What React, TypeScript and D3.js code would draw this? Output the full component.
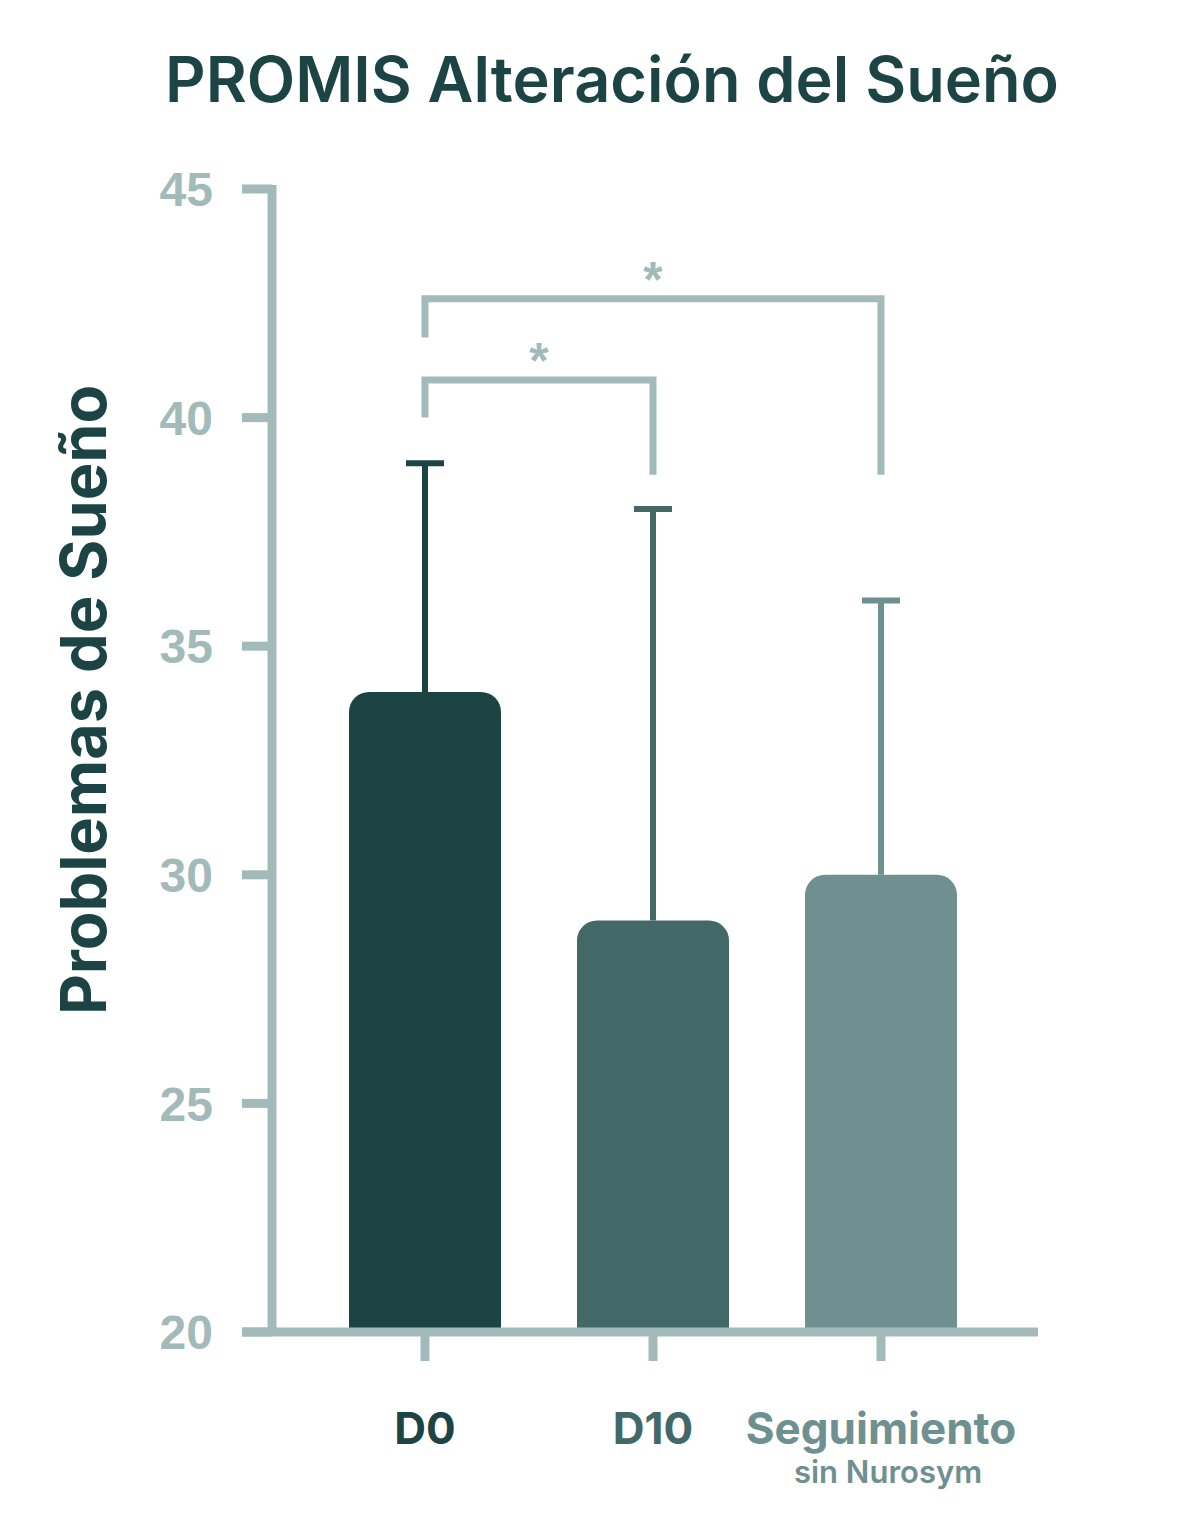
import React from "react";
import * as d3 from "d3";

const categories = ["D0", "D10", "Seguimiento"];
const subLabels = ["", "", "sin Nurosym"];
const means = [34, 29, 30];
const upperErrors = [39, 38, 36];
const barColors = ["#1c4444", "#436868", "#6f9090"];
const yTicks = [20, 25, 30, 35, 40, 45];
const brackets = [
  { from: 0, to: 1, level: 40.82, leftEnd: 40, rightEnd: 38.75, label: "*" },
  { from: 0, to: 2, level: 42.6, leftEnd: 41.75, rightEnd: 38.75, label: "*" },
];

const W = 1179;
const H = 1517;
const axisColor = "#a3baba";
const dark = "#1c4444";

export default function App() {
  const y = d3.scaleLinear().domain([20, 45]).range([1332, 189]);
  const x = d3
    .scaleBand<string>()
    .domain(categories)
    .range([311, 995])
    .paddingInner(1 / 3)
    .paddingOuter(1 / 6);
  const bw = x.bandwidth();
  const cx = (c: string) => (x(c) as number) + bw / 2;
  const r = 20;

  const barPath = (c: string, v: number) => {
    const x0 = x(c) as number;
    const x1 = x0 + bw;
    const yTop = y(v);
    const yb = y(20) - 4;
    const p = d3.path();
    p.moveTo(x0, yb);
    p.lineTo(x0, yTop + r);
    p.arcTo(x0, yTop, x0 + r, yTop, r);
    p.lineTo(x1 - r, yTop);
    p.arcTo(x1, yTop, x1, yTop + r, r);
    p.lineTo(x1, yb);
    p.closePath();
    return p.toString();
  };

  return (
    <svg width={W} height={H} style={{ display: "block", position: "absolute", left: 0, top: 0 }}>
      <rect width={W} height={H} fill="#ffffff" />
      <text x={612} y={102} textAnchor="middle" fontFamily="Inter, 'Noto Sans', sans-serif" fontWeight={600} fontSize={63} fill={dark}>
        PROMIS Alteración del Sueño
      </text>

      <text
        transform={`translate(106,${700}) rotate(-90)`}
        textAnchor="middle"
        fontFamily="Inter, 'Noto Sans', sans-serif"
        fontWeight={700}
        fontSize={63}
        fill={dark}
      >
        Problemas de Sueño
      </text>

      {categories.map((c, i) => (
        <path key={c} d={barPath(c, means[i])} fill={barColors[i]} />
      ))}

      {categories.map((c, i) => (
        <g key={c + "e"} stroke={barColors[i]} strokeWidth={6}>
          <line x1={cx(c)} x2={cx(c)} y1={y(means[i])} y2={y(upperErrors[i])} />
          <line x1={cx(c) - 19} x2={cx(c) + 19} y1={y(upperErrors[i])} y2={y(upperErrors[i])} />
        </g>
      ))}

      <line x1={272} x2={272} y1={185} y2={1336} stroke={axisColor} strokeWidth={9} />
      <line x1={242} x2={1038} y1={1332} y2={1332} stroke={axisColor} strokeWidth={9} />
      {yTicks.map((t) => (
        <g key={t}>
          <line x1={242} x2={272} y1={y(t)} y2={y(t)} stroke={axisColor} strokeWidth={9} />
          <text
            x={213}
            y={y(t)}
            dy="0.36em"
            textAnchor="end"
            fontFamily="'Liberation Sans', Arial, sans-serif"
            fontWeight={700}
            fontSize={48}
            fill={axisColor}
          >
            {t}
          </text>
        </g>
      ))}
      {categories.map((c) => (
        <line key={c + "t"} x1={cx(c)} x2={cx(c)} y1={1332} y2={1361} stroke={axisColor} strokeWidth={9} />
      ))}

      {categories.map((c, i) => (
        <g key={c + "l"}>
          <text
            x={cx(c)}
            y={1444}
            textAnchor="middle"
            fontFamily="Inter, 'Noto Sans', sans-serif"
            fontWeight={700}
            fontSize={44}
            fill={barColors[i]}
          >
            {c}
          </text>
          {subLabels[i] && (
            <text
              x={cx(c) + 7}
              y={1483}
              textAnchor="middle"
              fontFamily="Inter, 'Noto Sans', sans-serif"
              fontWeight={600}
              fontSize={31}
              fill={barColors[i]}
            >
              {subLabels[i]}
            </text>
          )}
        </g>
      ))}

      {brackets.map((b, k) => {
        const xa = cx(categories[b.from]);
        const xb = cx(categories[b.to]);
        const yl = y(b.level);
        return (
          <g key={k}>
            <path
              d={`M${xa},${y(b.leftEnd)} L${xa},${yl} L${xb},${yl} L${xb},${y(b.rightEnd)}`}
              fill="none"
              stroke={axisColor}
              strokeWidth={7}
            />
            <text
              x={(xa + xb) / 2}
              y={yl - 2}
              textAnchor="middle"
              fontFamily="'Liberation Sans', Arial, sans-serif"
              fontWeight={700}
              fontSize={50}
              fill={axisColor}
            >
              {b.label}
            </text>
          </g>
        );
      })}
    </svg>
  );
}
